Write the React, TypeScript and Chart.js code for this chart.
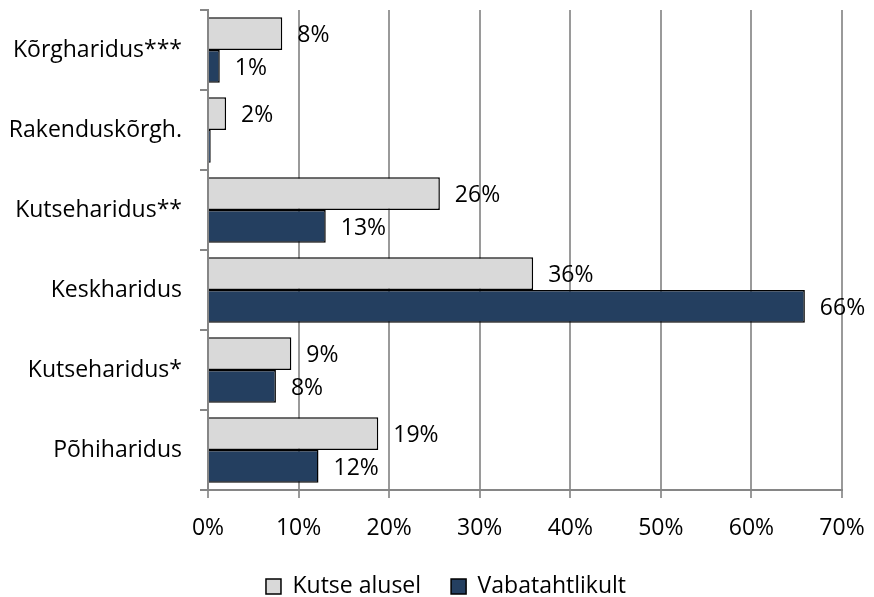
import React, { useEffect, useRef } from "react";
import { Chart, registerables } from "chart.js";

Chart.register(...registerables);

const categories = ["Kõrgharidus***", "Rakenduskõrgh.", "Kutseharidus**", "Keskharidus", "Kutseharidus*", "Põhiharidus"];
const seriesNames = ["Kutse alusel", "Vabatahtlikult"];
const kutseAlusel = [8.2, 2.0, 25.6, 35.9, 9.2, 18.8];
const vabatahtlikult = [1.3, 0.3, 13.0, 65.9, 7.5, 12.2];
const showLabel = [[true, true, true, true, true, true], [true, false, true, true, true, true]];
const xTicks = [0, 10, 20, 30, 40, 50, 60, 70];

const FONT = "'Open Sans', sans-serif";
const FS = 23;

const labelPlugin = {
  id: "valueLabels",
  afterDatasetsDraw(chart: any) {
    const ctx = chart.ctx;
    ctx.save();
    ctx.font = `${FS}px ${FONT}`;
    ctx.fillStyle = "#000";
    ctx.textAlign = "left";
    ctx.textBaseline = "middle";
    chart.data.datasets.forEach((ds: any, di: number) => {
      const meta = chart.getDatasetMeta(di);
      meta.data.forEach((el: any, i: number) => {
        if (!showLabel[di][i]) return;
        const v = ds.data[i];
        ctx.fillText(`${Math.round(v)}%`, el.x + 15, el.y + 2);
      });
    });
    ctx.restore();
  },
};

const legendShift = {
  id: "legendShift",
  beforeLayout(chart: any) {
    const lg = chart.legend;
    if (lg && !lg.__patched) {
      const orig = lg.fit.bind(lg);
      lg.fit = () => {
        orig();
        lg.height = 45;
      };
      lg.__patched = true;
    }
  },
  afterLayout(chart: any) {
    const lg = chart.legend;
    if (lg) {
      lg.left += 25;
      lg.right += 25;
      lg.top -= 7;
      lg.bottom = chart.height;
    }
  },
};

export default function App() {
  const ref = useRef<HTMLCanvasElement>(null);
  useEffect(() => {
    document.body.style.margin = "0";
    const chart = new Chart(ref.current!, {
      type: "bar",
      data: {
        labels: categories,
        datasets: [
          {
            label: seriesNames[0],
            data: kutseAlusel,
            backgroundColor: "#d9d9d9",
            borderColor: "#000",
            borderWidth: 1.5,
            categoryPercentage: 0.82,
            barPercentage: 1,
          },
          {
            label: seriesNames[1],
            data: vabatahtlikult,
            backgroundColor: "#243f60",
            borderColor: "#000",
            borderWidth: 1.5,
            categoryPercentage: 0.82,
            barPercentage: 1,
          },
        ],
      },
      plugins: [labelPlugin, legendShift],
      options: {
        indexAxis: "y",
        animation: false,
        responsive: false,
        layout: { padding: { left: 0, right: 32, top: 10, bottom: 0 } },
        scales: {
          x: {
            min: 0,
            max: 70,
            afterBuildTicks(scale: any) {
              scale.ticks = xTicks.map((v) => ({ value: v }));
            },
            afterFit(scale: any) {
              scale.height = 62;
              scale.paddingLeft = 0;
              scale.paddingRight = 0;
            },
            ticks: {
              callback: (v: any) => `${v}%`,
              color: "#000",
              font: { family: FONT, size: FS },
              padding: 17,
            },
            grid: { color: "#9a9a9a", lineWidth: 2, tickLength: 8, drawTicks: true },
            border: { color: "#868686", width: 2 },
          },
          y: {
            afterFit(scale: any) {
              scale.width = 208;
              scale.paddingTop = 0;
              scale.paddingBottom = 0;
            },
            ticks: {
              color: "#000",
              font: { family: FONT, size: FS },
              padding: 18,
            },
            grid: { offset: true, drawOnChartArea: false, drawTicks: true, tickLength: 8, color: "#868686", lineWidth: 2 },
            border: { color: "#868686", width: 2 },
          },
        },
        plugins: {
          legend: {
            position: "bottom",
            labels: {
              boxWidth: 15,
              boxHeight: 15,
              color: "#000",
              font: { family: FONT, size: FS },
              padding: 30,
            },
          },
          tooltip: { enabled: false },
        },
      },
    } as any);
    return () => chart.destroy();
  }, []);
  return (
    <div style={{ width: 874, height: 597 }}>
      <canvas ref={ref} width={874} height={597} />
    </div>
  );
}
